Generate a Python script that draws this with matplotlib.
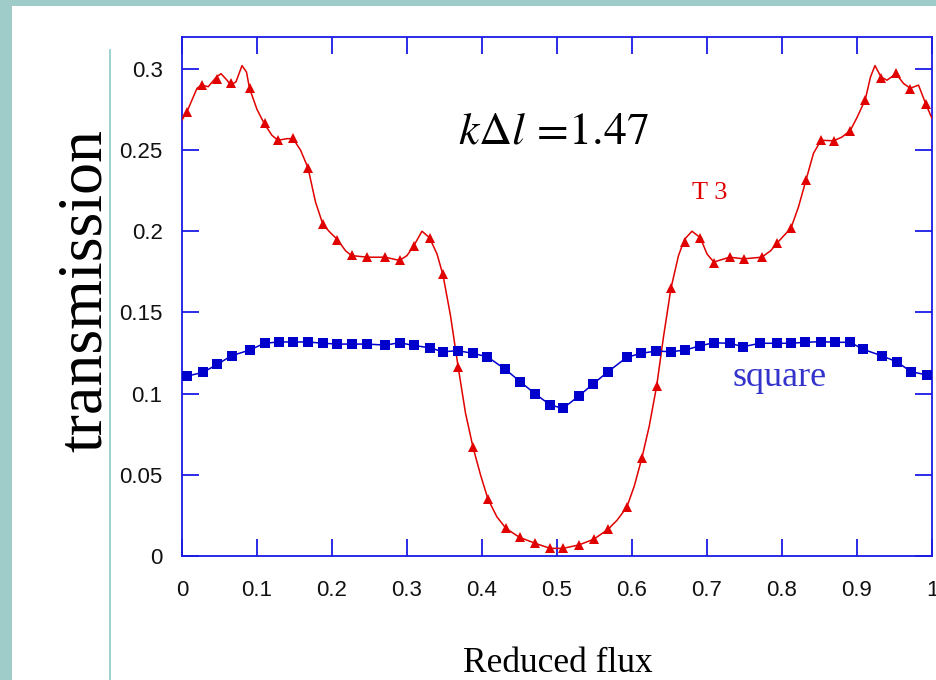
import matplotlib
matplotlib.use("Agg")
import matplotlib.pyplot as plt
from matplotlib.patches import Rectangle
from matplotlib.lines import Line2D

# T 3 markers (triangles)
t3_x = [0.007, 0.026, 0.046, 0.065, 0.090, 0.110, 0.128, 0.148, 0.168, 0.188,
        0.207, 0.226, 0.247, 0.271, 0.290, 0.309, 0.330, 0.348, 0.368, 0.388,
        0.408, 0.432, 0.450, 0.471, 0.491, 0.508, 0.529, 0.549, 0.568, 0.593,
        0.613, 0.633, 0.652, 0.670, 0.691, 0.709, 0.730, 0.749, 0.773, 0.793,
        0.812, 0.832, 0.852, 0.869, 0.891, 0.911, 0.932, 0.952, 0.971, 0.992]
t3_y = [0.2736, 0.2900, 0.2935, 0.2910, 0.2884, 0.2664, 0.2562, 0.2572, 0.2387, 0.2042,
        0.1946, 0.1853, 0.1843, 0.1843, 0.1823, 0.1910, 0.1956, 0.1735, 0.1166, 0.0673,
        0.0349, 0.0170, 0.0115, 0.0078, 0.0047, 0.0047, 0.0068, 0.0103, 0.0164, 0.0304,
        0.0602, 0.1047, 0.1648, 0.1936, 0.1956, 0.1806, 0.1843, 0.1829, 0.1843, 0.1925,
        0.2018, 0.2315, 0.2562, 0.2557, 0.2619, 0.2808, 0.2945, 0.2972, 0.2876, 0.2783]

# T 3 fitted curve (finer than the markers)
t3_curve_x = [0.000, 0.007, 0.020, 0.026, 0.035, 0.046, 0.052, 0.060, 0.065, 0.072,
              0.080, 0.086, 0.090, 0.100, 0.110, 0.120, 0.128, 0.140, 0.148, 0.158,
              0.168, 0.178, 0.188, 0.198, 0.207, 0.218, 0.226, 0.247, 0.271, 0.290,
              0.300, 0.309, 0.320, 0.330, 0.340, 0.348, 0.358, 0.368, 0.378, 0.388,
              0.398, 0.408, 0.420, 0.432, 0.450, 0.471, 0.491, 0.508, 0.529, 0.549,
              0.568, 0.580, 0.593, 0.603, 0.613, 0.623, 0.633, 0.642, 0.652, 0.662,
              0.670, 0.680, 0.691, 0.700, 0.709, 0.730, 0.749, 0.773, 0.785, 0.793,
              0.812, 0.822, 0.832, 0.842, 0.852, 0.869, 0.880, 0.891, 0.900, 0.911,
              0.918, 0.924, 0.932, 0.940, 0.952, 0.962, 0.971, 0.982, 0.992, 1.000]
t3_curve_y = [0.2685, 0.2740, 0.2880, 0.2900, 0.2890, 0.2950, 0.2970, 0.2930, 0.2900, 0.2920,
              0.3020, 0.2980, 0.2880, 0.2750, 0.2660, 0.2590, 0.2560, 0.2570, 0.2570, 0.2500,
              0.2390, 0.2180, 0.2040, 0.1990, 0.1950, 0.1880, 0.1850, 0.1840, 0.1840, 0.1820,
              0.1850, 0.1910, 0.2000, 0.1960, 0.1860, 0.1730, 0.1480, 0.1170, 0.0880, 0.0670,
              0.0500, 0.0350, 0.0240, 0.0170, 0.0115, 0.0078, 0.0047, 0.0047, 0.0068, 0.0103,
              0.0164, 0.0220, 0.0300, 0.0430, 0.0600, 0.0800, 0.1050, 0.1350, 0.1650, 0.1850,
              0.1950, 0.2000, 0.1960, 0.1860, 0.1810, 0.1840, 0.1830, 0.1840, 0.1880, 0.1925,
              0.2020, 0.2150, 0.2315, 0.2480, 0.2560, 0.2557, 0.2580, 0.2620, 0.2700, 0.2810,
              0.2950, 0.3020, 0.2950, 0.2930, 0.2970, 0.2910, 0.2880, 0.2900, 0.2780, 0.2695]

# square lattice (blue squares)
sq_x = [0.007, 0.028, 0.047, 0.066, 0.090, 0.110, 0.129, 0.148, 0.168, 0.188,
        0.207, 0.226, 0.246, 0.271, 0.290, 0.309, 0.330, 0.348, 0.368, 0.388,
        0.407, 0.431, 0.451, 0.471, 0.491, 0.508, 0.529, 0.548, 0.568, 0.593,
        0.612, 0.632, 0.652, 0.671, 0.691, 0.709, 0.730, 0.748, 0.771, 0.793,
        0.812, 0.831, 0.852, 0.871, 0.891, 0.908, 0.933, 0.953, 0.972, 0.993]
sq_y = [0.1108, 0.1131, 0.1180, 0.1233, 0.1268, 0.1310, 0.1318, 0.1318, 0.1318, 0.1310,
        0.1305, 0.1305, 0.1305, 0.1299, 0.1313, 0.1297, 0.1282, 0.1258, 0.1264, 0.1248,
        0.1227, 0.1150, 0.1073, 0.0998, 0.0930, 0.0909, 0.0985, 0.1059, 0.1135, 0.1223,
        0.1248, 0.1262, 0.1258, 0.1268, 0.1295, 0.1313, 0.1310, 0.1289, 0.1310, 0.1310,
        0.1310, 0.1316, 0.1320, 0.1316, 0.1316, 0.1273, 0.1233, 0.1196, 0.1135, 0.1115]

x_ticks = [0, 0.1, 0.2, 0.3, 0.4, 0.5, 0.6, 0.7, 0.8, 0.9, 1]
x_ticklabels = ["0", "0.1", "0.2", "0.3", "0.4", "0.5", "0.6", "0.7", "0.8", "0.9", "1"]
y_ticks = [0, 0.05, 0.1, 0.15, 0.2, 0.25, 0.3]
y_ticklabels = ["0", "0.05", "0.1", "0.15", "0.2", "0.25", "0.3"]

RED = "#e00000"
BLUE = "#0000cc"
FRAME = "#1a1ae6"

W, H = 936, 680
fig = plt.figure(figsize=(W / 100, H / 100), dpi=100)
fig.patch.set_facecolor("#9fcbc8")

# slide background: white page with teal edges and a thin guide line
fig.patches.append(Rectangle((12 / W, 0), 1, 1 - 6 / H, transform=fig.transFigure,
                             facecolor="white", edgecolor="none", zorder=-10))
fig.lines.append(Line2D([110 / W, 110 / W], [0, 1 - 50 / H], transform=fig.transFigure,
                        color="#8ccaca", linewidth=1.2, zorder=-5))

ax = fig.add_axes([182 / W, (H - 556) / H, 750 / W, (556 - 37) / H])
ax.set_facecolor("white")

ax.plot(t3_curve_x, t3_curve_y, "-", color=RED, linewidth=1.1, zorder=3)
ax.plot(t3_x, t3_y, "^", color=RED, markersize=7.5, markeredgewidth=0, zorder=4)
ax.plot(sq_x, sq_y, "-", color=BLUE, linewidth=1.1, zorder=3)
ax.plot(sq_x, sq_y, "s", color=BLUE, markersize=6.8, markeredgewidth=0, zorder=4)

ax.set_xlim(0, 1)
ax.set_ylim(0, 0.3196)
ax.set_xticks(x_ticks)
ax.set_xticklabels(x_ticklabels)
ax.set_yticks(y_ticks)
ax.set_yticklabels(y_ticklabels)
for s in ax.spines.values():
    s.set_color(FRAME)
    s.set_linewidth(1.3)
ax.tick_params(direction="in", length=12, width=1.3, color=FRAME,
               top=True, right=True, labelsize=16, labelcolor="#111111")
ax.tick_params(axis="x", pad=17)
ax.tick_params(axis="y", pad=14)
for lab in ax.get_xticklabels() + ax.get_yticklabels():
    lab.set_family("Liberation Sans")

plt.rcParams["mathtext.fontset"] = "stix"
ax.text(0.495, 0.262, r"$k\Delta l\,=\!1.47$", fontsize=33, ha="center", va="center",
        color="black")
ax.text(0.703, 0.2235, "T 3", fontsize=19, ha="center", va="center", color=RED,
        family="Liberation Serif")
ax.text(0.797, 0.110, "square", fontsize=26, ha="center", va="center", color="#3333cc",
        family="Liberation Serif")

fig.text(86 / W, 1 - 290 / H, "transmission", rotation=90, fontsize=46,
         ha="center", va="center", family="Liberation Serif")
fig.text(558 / W, 1 - 663 / H, "Reduced flux", fontsize=25.5,
         ha="center", va="center", family="Liberation Serif")

fig.savefig("out.png", dpi=100, facecolor=fig.get_facecolor())
